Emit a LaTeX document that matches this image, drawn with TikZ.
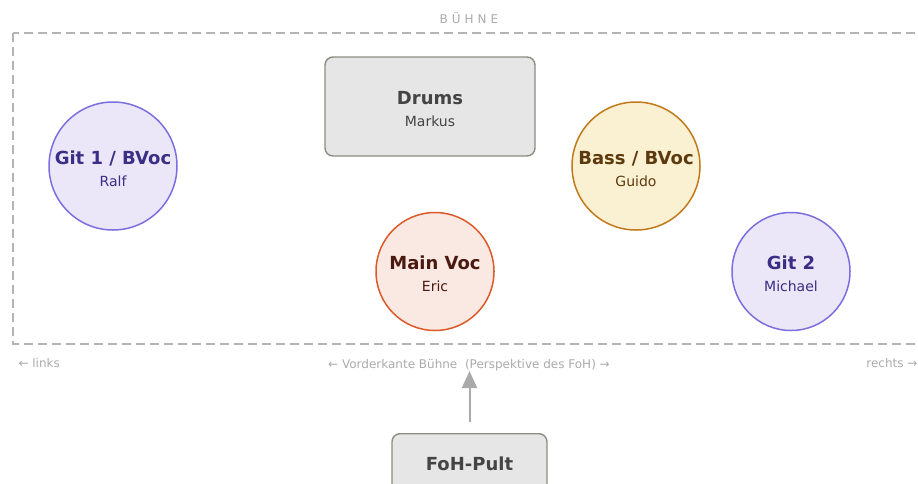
\documentclass[tikz,border=0pt]{standalone}
\usepackage{fontspec}
\setmainfont{DejaVu Sans}
\usepackage{tikz}
\usetikzlibrary{arrows.meta}
\usetikzlibrary{positioning}
\definecolor{stageline}{HTML}{B4B4B4}
\definecolor{hint}{HTML}{AAAAAA}
\definecolor{boxfill}{HTML}{E6E6E6}
\definecolor{boxline}{HTML}{8C8C80}
\definecolor{boxtext}{HTML}{444444}
\definecolor{gitfill}{HTML}{EBE6F8}
\definecolor{gitline}{HTML}{7B6FE0}
\definecolor{gittext}{HTML}{3A2E85}
\definecolor{bassfill}{HTML}{FAF0D2}
\definecolor{bassline}{HTML}{C07A1A}
\definecolor{basstext}{HTML}{5C3A0E}
\definecolor{vocfill}{HTML}{FAE8E2}
\definecolor{vocline}{HTML}{DC5A28}
\definecolor{voctext}{HTML}{4A1A10}
\newcommand{\role}[2]{{\bfseries\rule{0pt}{19pt}#1}\\{\fontsize{14}{22}\selectfont #2}}
\newcommand{\hintfont}{\fontsize{12}{14}\selectfont}

\begin{document}
\begin{tikzpicture}[x=1pt, y=-1pt,
    player/.style={circle, draw, line width=1.5pt, align=center, inner sep=0pt,
                   font=\fontsize{18}{22}\selectfont},
    desk/.style={rectangle, rounded corners=8pt, draw=boxline, fill=boxfill, line width=1.4pt,
                 align=center, text=boxtext, font=\fontsize{18}{22}\selectfont}]
	\useasboundingbox (0,0) rectangle (918,483);
	\clip (0,0) rectangle (918,483);
	% The stage:
	\draw[stageline, line width=1.5pt, dash pattern=on 9pt off 5pt] (13,33) rectangle (930,344);
	\node[hint, font=\hintfont] (buehne) at (469,18) {B\hspace{4pt}Ü\hspace{4pt}H\hspace{4pt}N\hspace{4pt}E};
	% Players:
	\node[desk, minimum width=210pt, minimum height=99pt] (drums) at (430,106.5) {\role{Drums}{Markus}};
	\node[player, fill=gitfill, draw=gitline, text=gittext, minimum size=128pt] (git1) at (113,166) {\role{Git 1 / BVoc}{Ralf}};
	\node[player, fill=bassfill, draw=bassline, text=basstext, minimum size=128pt] (bass) at (636,166) {\role{Bass / BVoc}{Guido}};
	\node[player, fill=vocfill, draw=vocline, text=voctext, minimum size=118pt] (voc) at (435,271.5) {\role{Main Voc}{Eric}};
	\node[player, fill=gitfill, draw=gitline, text=gittext, minimum size=118pt] (git2) at (791,271.5) {\role{Git 2}{Michael}};
	% Labels:
	\node[hint, font=\hintfont, anchor=west] (links) at (15,363) {← links};
	\node[hint, font=\hintfont] (front) at (469,365) {← Vorderkante Bühne\ \ (Perspektive des FoH) →};
	\node[hint, font=\hintfont, anchor=east] (rechts) at (921,363) {rechts →};
	% FoH:
	\node[desk, minimum width=155pt, minimum height=70pt, anchor=north] (foh) at (469.5,433) {};
	\node[text=boxtext, font=\fontsize{18}{22}\selectfont\bfseries] (fohlabel) at (469.5,464) {FoH-Pult};
	\coordinate (edge) at (469.5,371);
	\draw[hint, line width=2pt, -{Triangle[length=17pt, width=15pt]}, shorten <=11pt] (foh.north) -- (edge);
\end{tikzpicture}
\end{document}
